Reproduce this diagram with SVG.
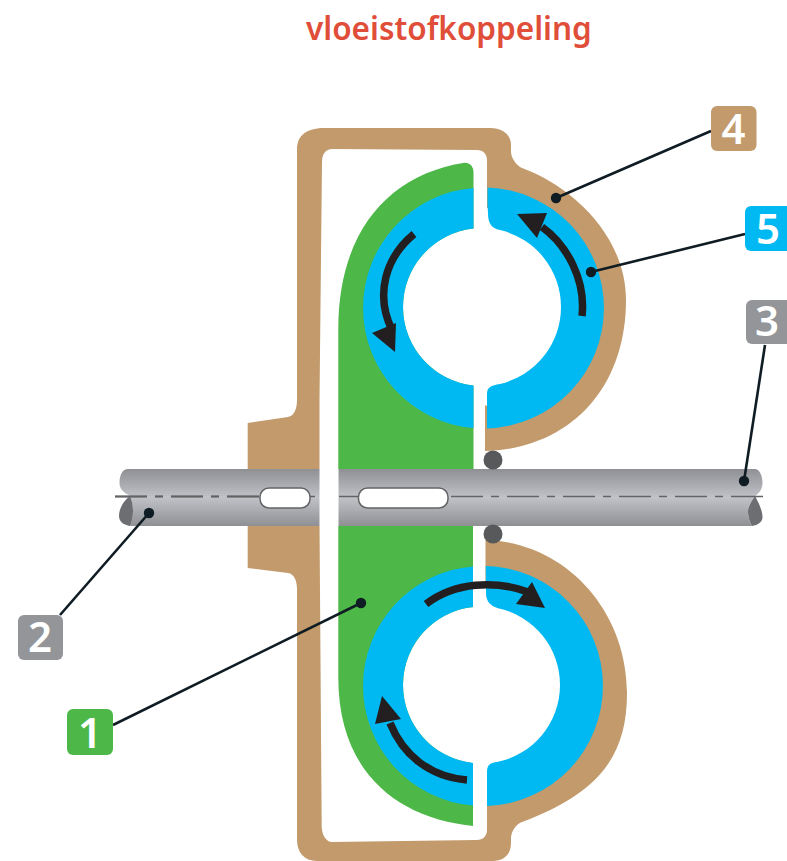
<svg xmlns="http://www.w3.org/2000/svg" width="787" height="861" viewBox="0 0 787 861">
<style>
.tan{fill:#c29a6b}.green{fill:#4db848}.blue{fill:#00b9f2}.hole{fill:#fff}
.flow{fill:none;stroke:#231f20;stroke-width:7.5}.head{fill:#231f20}
.lead{fill:none;stroke:#0f1c24;stroke-width:2.6}.dot{fill:#0f1c24}
.cl{stroke:#636466;stroke-dasharray:32 8 8 8;fill:none}
.slot{fill:#fff;stroke:#636466;stroke-width:1.5}
.badge-text{font-family:"Noto Sans","Liberation Sans",sans-serif;font-weight:600;font-size:42px;fill:#fff;text-anchor:middle}
.title{font-family:"Noto Sans","Liberation Sans",sans-serif;font-weight:600;font-size:31.5px;fill:#e04e39}
</style>
<defs>
<linearGradient id="shaft" x1="0" y1="469" x2="0" y2="526" gradientUnits="userSpaceOnUse">
<stop offset="0" stop-color="#8f9094"/><stop offset=".5" stop-color="#c1c2c7"/><stop offset="1" stop-color="#8f9094"/>
</linearGradient>
</defs>
<rect width="787" height="861" fill="#fff"/>
<text class="title" x="306" y="40">vloeistofkoppeling</text>

<g id="housing">
<path class="tan" d="M247.7,423 L288,417 C294,416 297,409 297,400 L297,150 C297,134 308,128 325,128 L490,128 C503,128 511,135 511,145 L511,152 C511,158 517,166 522,168 C570,185 626,235 626,300 C626,390 568,449 485,451 L485,405 L490,407.800 A100,100 0 0 0 490,208.200 L487,208 L487,160 C487,154 483,150 477,150 L332,149 C326,149 322,154 322,162 L319.5,400 L319.5,472 L247.7,472 Z"/>
<path class="tan" d="M485.5,540 C565,542 627,610 627,693 C627,755 600,793 522,822 C516,824 511,832 511,838 L511,843 C511,855 503,861 493,861 L317,861 C304,861 297,852 297,840 L297,590 C297,580 294,574 288,573 L247.7,568 L247.7,523 L319.5,523 L321.7,827 C322,835 326,842 332,842 L477,840 C483,840 487,836 487,830 L487,785.920 A100,100 0 0 0 490,586.250 L485.5,586 Z"/>
</g>

<g id="impeller">
<path class="green" d="M338.3,472 L338.3,330 C338,230 390,175 463,163 C469,162 473.5,166 473.5,172 L473.5,472 Z"/>
<path class="green" d="M338.3,523 L473,523 L473,826 C395,818 338,770 338.3,677 Z"/>
<circle class="hole" cx="482" cy="307" r="79"/>
<circle class="hole" cx="481.5" cy="685" r="78.5"/>
<path class="blue" d="M473.5,187.920 A120.5,120.5 0 0 0 473.5,428.080 L473.5,385.540 A79,79 0 0 1 473.5,228.460 Z"/>
<path class="blue" d="M473,566.420 A120,120 0 0 0 473,805.580 L473,763.040 A78.5,78.5 0 0 1 473,606.960 Z"/>
</g>

<g id="turbine">
<path class="blue" d="M487.5,187.570 A120.5,120.5 0 0 1 487,428.450 L487,394 C487,387 491,385.500 500,383.920 A79,79 0 0 0 500,230.080 C491,228 488,223 488,213 L487.5,205 Z"/>
<path class="blue" d="M485.7,566.030 A120,120 0 0 1 487,805.930 L487,772 C487,765 490,763 497,761.950 A78.5,78.5 0 0 0 498,608.250 C491,606 486,602 486,593 Z"/>
</g>

<g id="shaft-group">
<path fill="url(#shaft)" d="M128,469 L755,469 C759,469 762.5,475 762.5,483 C762.5,490 758,494 755,496 C750,503 748,508 748,511 C748,517 750,523 752,526 L130,526 C134,518 134,505 130,496 C125,493 119.5,490 119.5,483 C119.5,476 122,469 128,469 Z"/>
<path fill="#6d6e72" d="M130,496 C122,502 119,510 119,516 C119,522 124,525 130,526 C134,518 134,505 130,496 Z"/>
<path fill="#6d6e72" d="M755,496 C760,505 762.5,512 762.5,517 C762.5,522 758,525 752,526 C750,523 748,517 748,511 C748,508 750,503 755,496 Z"/>
<path class="cl" stroke-width="2" d="M115,496.5 H259"/>
<path class="cl" stroke-width="1.5" d="M115,496.5 H763"/>
<rect x="319.5" y="469" width="19" height="57" fill="#fff"/>
<rect class="slot" x="260" y="488" width="50" height="20" rx="9"/>
<rect class="slot" x="358.5" y="488" width="89.5" height="20" rx="9"/>
<circle cx="493" cy="460" r="9.5" fill="#58595b"/>
<circle cx="493" cy="534" r="9.5" fill="#58595b"/>
</g>

<g id="flow-arrows">
<path class="flow" d="M414,234 C385,258 375,295 392,330"/>
<path class="head" d="M372,333 L396,323 L395,352 Z"/>
<path class="flow" d="M582,316 C586,280 567,245 542,227"/>
<path class="head" d="M517,214 L547,213 L537,238 Z"/>
<path class="flow" d="M426,604 C455,582 495,580 528,592"/>
<path class="head" d="M532,582 L545,608 L516,604 Z"/>
<path class="flow" d="M467,780 C430,777 403,755 390,723"/>
<path class="head" d="M382,696 L401,719 L375,724 Z"/>
</g>

<g id="connectors">
<path class="lead" d="M556,198 L711,131"/><circle class="dot" cx="556" cy="198" r="5.2"/>
<path class="lead" d="M591,272 L745,234"/><circle class="dot" cx="591" cy="272" r="5.2"/>
<path class="lead" d="M744,481 L765,345"/><circle class="dot" cx="744" cy="481" r="5.2"/>
<path class="lead" d="M149,513 L60,615"/><circle class="dot" cx="149" cy="513" r="5.2"/>
<path class="lead" d="M361,603 L113,725"/><circle class="dot" cx="361" cy="603" r="5.2"/>
</g>

<g id="label-1"><rect x="67" y="709" width="46" height="46" rx="6" fill="#4db848"/><text class="badge-text" x="90" y="748">1</text></g>
<g id="label-2"><rect x="18" y="615" width="45" height="45" rx="6" fill="#939598"/><text class="badge-text" x="40" y="652">2</text></g>
<g id="label-3"><rect x="746" y="300" width="50" height="44" rx="6" fill="#939598"/><text class="badge-text" x="767" y="336">3</text></g>
<g id="label-4"><rect x="711" y="106" width="45.500" height="45" rx="6" fill="#c29a6b"/><text class="badge-text" x="733.500" y="143.500">4</text></g>
<g id="label-5"><rect x="745" y="206" width="50" height="45" rx="6" fill="#00b9f2"/><text class="badge-text" x="768" y="244">5</text></g>
</svg>
